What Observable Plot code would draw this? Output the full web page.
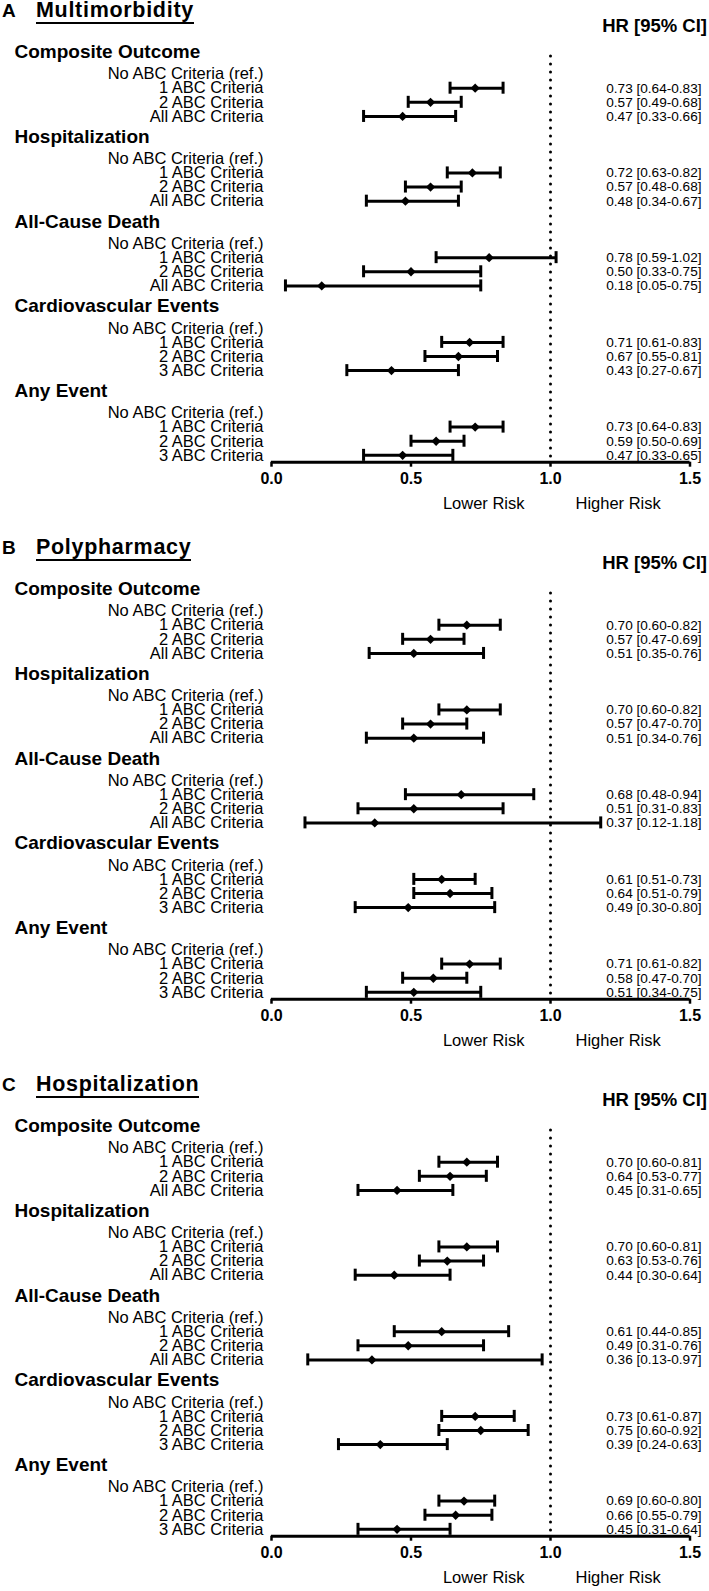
<!DOCTYPE html>
<html>
<head>
<meta charset="utf-8">
<script src="https://cdn.jsdelivr.net/npm/d3@7"></script>
<script src="https://cdn.jsdelivr.net/npm/@observablehq/plot@0.6"></script>
<style>
  html, body { margin: 0; padding: 0; background: #fff; }
  body { font-family: "Liberation Sans", Arial, Helvetica, sans-serif; color: #000; }
  #root { width: 709px; }
  .panel { position: relative; width: 709px; height: 537px; }
  .panel.last { height: 517px; }
  .letter { position: absolute; z-index: 2; left: 2px; top: 1px; font-weight: bold; font-size: 19px; line-height: 19px; }
  .title { position: absolute; z-index: 2; left: 36px; top: 0px; font-weight: bold; font-size: 21.5px; line-height: 21.5px;
           letter-spacing: 0.7px; display: inline-block; border-bottom: 2.7px solid #000; padding-bottom: 0.5px; }
  .hr { position: absolute; z-index: 2; right: 2px; top: 16.5px; font-weight: bold; font-size: 18.5px; line-height: 18.5px; }
  .chart { position: absolute; z-index: 1; left: 0; top: 30px; }
  .chart svg { overflow: visible; background: transparent; }
</style>
</head>
<body>
<div id="root"></div>
<script>
// ---------- data ----------
const panelLetters = ["A", "B", "C"];
const panelTitles = ["Multimorbidity", "Polypharmacy", "Hospitalization"];
const columnHeader = "HR [95% CI]";
const outcomes = ["Composite Outcome", "Hospitalization", "All-Cause Death", "Cardiovascular Events", "Any Event"];
const criteriaAll = ["No ABC Criteria (ref.)", "1 ABC Criteria", "2 ABC Criteria", "All ABC Criteria"];
const criteriaThree = ["No ABC Criteria (ref.)", "1 ABC Criteria", "2 ABC Criteria", "3 ABC Criteria"];
const outcomeCriteria = [criteriaAll, criteriaAll, criteriaAll, criteriaThree, criteriaThree];
const xTicks = [0, 0.5, 1.0, 1.5];
const refValue = 1;
const riskLabels = ["Lower Risk", "Higher Risk"];

// per panel: HR, lower CI, upper CI (5 outcomes x [1 ABC, 2 ABC, All/3 ABC])
const hrMultimorbidity = [0.73, 0.57, 0.47, 0.72, 0.57, 0.48, 0.78, 0.50, 0.18, 0.71, 0.67, 0.43, 0.73, 0.59, 0.47];
const loMultimorbidity = [0.64, 0.49, 0.33, 0.63, 0.48, 0.34, 0.59, 0.33, 0.05, 0.61, 0.55, 0.27, 0.64, 0.50, 0.33];
const hiMultimorbidity = [0.83, 0.68, 0.66, 0.82, 0.68, 0.67, 1.02, 0.75, 0.75, 0.83, 0.81, 0.67, 0.83, 0.69, 0.65];

const hrPolypharmacy = [0.70, 0.57, 0.51, 0.70, 0.57, 0.51, 0.68, 0.51, 0.37, 0.61, 0.64, 0.49, 0.71, 0.58, 0.51];
const loPolypharmacy = [0.60, 0.47, 0.35, 0.60, 0.47, 0.34, 0.48, 0.31, 0.12, 0.51, 0.51, 0.30, 0.61, 0.47, 0.34];
const hiPolypharmacy = [0.82, 0.69, 0.76, 0.82, 0.70, 0.76, 0.94, 0.83, 1.18, 0.73, 0.79, 0.80, 0.82, 0.70, 0.75];

const hrHospitalization = [0.70, 0.64, 0.45, 0.70, 0.63, 0.44, 0.61, 0.49, 0.36, 0.73, 0.75, 0.39, 0.69, 0.66, 0.45];
const loHospitalization = [0.60, 0.53, 0.31, 0.60, 0.53, 0.30, 0.44, 0.31, 0.13, 0.61, 0.60, 0.24, 0.60, 0.55, 0.31];
const hiHospitalization = [0.81, 0.77, 0.65, 0.81, 0.76, 0.64, 0.85, 0.76, 0.97, 0.87, 0.92, 0.63, 0.80, 0.79, 0.64];

const panelData = [
  [hrMultimorbidity, loMultimorbidity, hiMultimorbidity],
  [hrPolypharmacy, loPolypharmacy, hiPolypharmacy],
  [hrHospitalization, loHospitalization, hiHospitalization]
];

// ---------- layout helpers (row units) ----------
const GROUP = 12, FIRST = 3.1, STEP = 2, CAP = 0.85;
const yTop = 0.61, yBottom = 58.07;
const fmt = d3.format(".2f");
const font = "Liberation Sans, Arial, Helvetica, sans-serif";

function buildPanel(hr, lo, hi) {
  const headers = [], labels = [], rows = [];
  outcomes.forEach((o, g) => {
    headers.push({text: o, y: g * GROUP});
    outcomeCriteria[g].forEach((l, i) => labels.push({text: l, y: g * GROUP + FIRST + STEP * i}));
    for (let k = 0; k < 3; k++) {
      const j = g * 3 + k;
      rows.push({hr: hr[j], lo: lo[j], hi: hi[j], y: g * GROUP + FIRST + STEP * (k + 1),
                 label: `${fmt(hr[j])} [${fmt(lo[j])}-${fmt(hi[j])}]`});
    }
  });
  return Plot.plot({
    width: 709,
    height: 487,
    marginLeft: 271,
    marginRight: 19.5,
    marginTop: 26,
    marginBottom: 55.3,
    style: {fontFamily: font, background: "transparent", overflow: "visible"},
    x: {domain: [0, 1.5], axis: null},
    y: {domain: [yBottom, yTop], axis: null},
    marks: [
      Plot.ruleX([refValue], {stroke: "#000", strokeWidth: 3, strokeDasharray: "0,8", strokeLinecap: "round"}),
      Plot.ruleY([yBottom], {stroke: "#000", strokeWidth: 3}),
      Plot.axisX({ticks: xTicks, tickFormat: d3.format(".1f"), tickSize: 5, tickPadding: 5,
                  strokeWidth: 2.5, fontSize: 16, fontWeight: "bold", anchor: "bottom"}),
      Plot.ruleY(rows, {x1: "lo", x2: "hi", y: "y", stroke: "#000", strokeWidth: 3}),
      Plot.ruleX(rows, {x: "lo", y1: d => d.y - CAP, y2: d => d.y + CAP, stroke: "#000", strokeWidth: 3}),
      Plot.ruleX(rows, {x: "hi", y1: d => d.y - CAP, y2: d => d.y + CAP, stroke: "#000", strokeWidth: 3}),
      Plot.dot(rows, {x: "hr", y: "y", symbol: "diamond2", r: 4.2, fill: "#000", stroke: null}),
      Plot.text(rows, {y: "y", text: "label", frameAnchor: "right", dx: 11.5, textAnchor: "end", fontSize: 13.6, fill: "#000"}),
      Plot.text(labels, {y: "y", text: "text", frameAnchor: "left", dx: -8, textAnchor: "end", fontSize: 16.5, fill: "#000"}),
      Plot.text(headers, {y: "y", text: "text", frameAnchor: "left", dx: -257, textAnchor: "start", fontSize: 19, fontWeight: "bold", fill: "#000"}),
      Plot.text([riskLabels[0]], {x: () => refValue, text: d => d, frameAnchor: "bottom", dy: 46.3, dx: -26, textAnchor: "end", fontSize: 16.5, fill: "#000"}),
      Plot.text([riskLabels[1]], {x: () => refValue, text: d => d, frameAnchor: "bottom", dy: 46.3, dx: 25, textAnchor: "start", fontSize: 16.5, fill: "#000"})
    ]
  });
}

const root = document.getElementById("root");
panelTitles.forEach((t, p) => {
  const panel = document.createElement("div");
  panel.className = "panel" + (p === panelTitles.length - 1 ? " last" : "");
  const letter = document.createElement("div");
  letter.className = "letter"; letter.textContent = panelLetters[p];
  const title = document.createElement("div");
  title.className = "title"; title.textContent = t;
  const hrh = document.createElement("div");
  hrh.className = "hr"; hrh.textContent = columnHeader;
  const chart = document.createElement("div");
  chart.className = "chart";
  const [hr, lo, hi] = panelData[p];
  chart.appendChild(buildPanel(hr, lo, hi));
  panel.append(chart, letter, title, hrh);
  root.appendChild(panel);
});
</script>
</body>
</html>
